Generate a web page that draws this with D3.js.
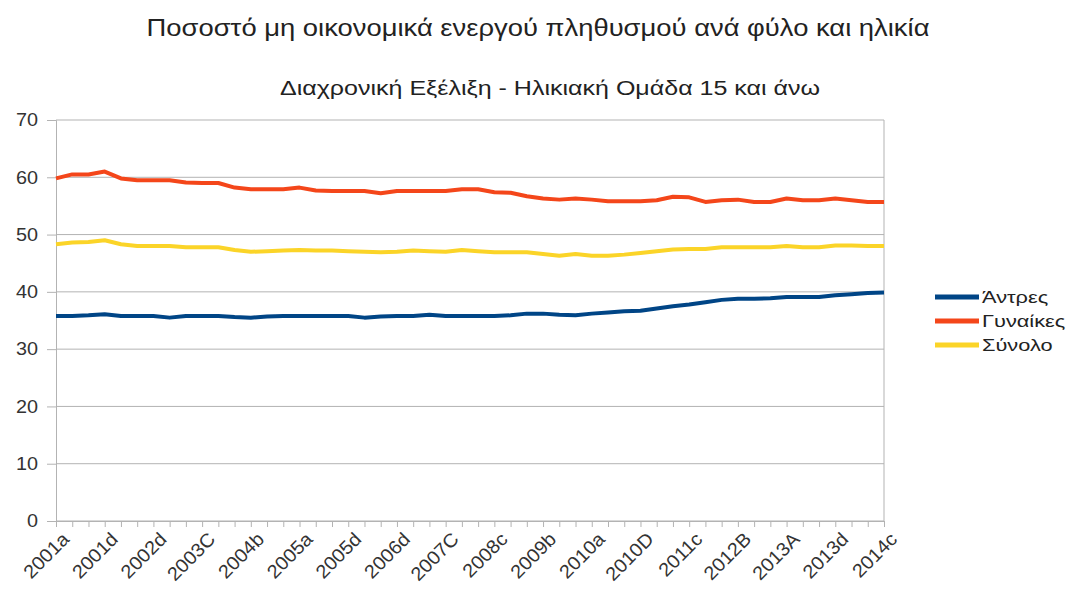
<!DOCTYPE html>
<html>
<head>
<meta charset="utf-8">
<script src="https://cdn.jsdelivr.net/npm/d3@7"></script>
<style>
  body { margin: 0; background: #fff; }
  svg { font-family: "Liberation Sans", Arial, sans-serif; }
</style>
</head>
<body>
<svg id="viz"></svg>
<script>
var width = 1076;
var height = 592;

// quarters as they appear in the source sheet (a few are missing)
var quarters = [
  "2001a","2001b","2001c","2001d",
  "2002a","2002b","2002d",
  "2003a","2003b","2003C","2003d",
  "2004a","2004b","2004c","2004d",
  "2005a","2005b","2005c","2005d",
  "2006a","2006b","2006d",
  "2007a","2007b","2007C","2007d",
  "2008a","2008c","2008d",
  "2009a","2009b","2009c","2009d",
  "2010a","2010b","2010c","2010D",
  "2011a","2011b","2011c","2011d",
  "2012a","2012B","2012c","2012d",
  "2013A","2013b","2013c","2013d",
  "2014a","2014b","2014c"
];

var men = [
  35.8,35.8,35.9,36.1, 35.8,35.8,35.8, 35.5,35.8,35.8,35.8, 35.6,35.5,35.7,35.8,
  35.8,35.8,35.8,35.8, 35.5,35.7,35.8, 35.8,36.0,35.8,35.8, 35.8,35.8,35.9,
  36.2,36.2,36.0,35.9, 36.2,36.4,36.6,36.7, 37.1,37.5,37.8,38.2,
  38.6,38.8,38.8,38.9, 39.1,39.1,39.1,39.4, 39.6,39.8,39.9
];
var women = [
  59.8,60.5,60.5,61.0, 59.8,59.5,59.5, 59.5,59.1,59.0,59.0, 58.2,57.9,57.9,57.9,
  58.2,57.7,57.6,57.6, 57.6,57.2,57.6, 57.6,57.6,57.6,57.9, 57.9,57.4,57.3,
  56.7,56.3,56.1,56.3, 56.1,55.8,55.8,55.8, 56.0,56.6,56.5,55.7,
  56.0,56.1,55.7,55.7, 56.3,56.0,56.0,56.3, 56.0,55.7,55.7
];
var total = [
  48.3,48.6,48.7,49.0, 48.3,48.0,48.0, 48.0,47.8,47.8,47.8, 47.3,47.0,47.1,47.2,
  47.3,47.2,47.2,47.1, 47.0,46.9,47.0, 47.2,47.1,47.0,47.3, 47.1,46.9,46.9,
  46.9,46.6,46.3,46.6, 46.3,46.3,46.5,46.8, 47.1,47.4,47.5,47.5,
  47.8,47.8,47.8,47.8, 48.0,47.8,47.8,48.1, 48.1,48.0,48.0
];

var seriesNames = ["Άντρες", "Γυναίκες", "Σύνολο"];
var seriesColors = ["#004586", "#f4461a", "#fbd428"];
var yTicks = [0, 10, 20, 30, 40, 50, 60, 70];

var svg = d3.select("#viz").attr("width", width).attr("height", height);

var plot = { left: 56, right: 884, top: 120, bottom: 521 };

// the source picture is a bit wider than tall, so text gets stretched sideways
function stretch(sel, factor) {
    sel.each(function() {
        var w = this.getComputedTextLength();
        d3.select(this)
            .attr("textLength", w * factor)
            .attr("lengthAdjust", "spacingAndGlyphs");
    });
}

var x = d3.scalePoint()
    .domain(quarters)
    .range([plot.left, plot.right]);

var y = d3.scaleLinear()
    .domain([0, 70])
    .range([plot.bottom, plot.top]);

// titles
svg.append("text")
    .attr("x", 538)
    .attr("y", 36)
    .attr("text-anchor", "middle")
    .style("font-size", "23px")
    .style("fill", "#222")
    .text("Ποσοστό μη οικονομικά ενεργού πληθυσμού ανά φύλο και ηλικία")
    .attr("textLength", 783)
    .attr("lengthAdjust", "spacingAndGlyphs");

svg.append("text")
    .attr("x", 550)
    .attr("y", 95)
    .attr("text-anchor", "middle")
    .style("font-size", "20px")
    .style("fill", "#222")
    .text("Διαχρονική Εξέλιξη - Ηλικιακή Ομάδα 15 και άνω")
    .attr("textLength", 540)
    .attr("lengthAdjust", "spacingAndGlyphs");

// horizontal grid
svg.append("g")
    .selectAll("line")
    .data(yTicks)
    .enter()
    .append("line")
    .attr("x1", plot.left)
    .attr("x2", plot.right)
    .attr("y1", function(d) { return y(d); })
    .attr("y2", function(d) { return y(d); })
    .style("stroke", "#b3b3b3")
    .style("stroke-width", 1);

// right border
svg.append("line")
    .attr("x1", plot.right).attr("x2", plot.right)
    .attr("y1", plot.top).attr("y2", plot.bottom)
    .style("stroke", "#b3b3b3");

// y axis
var yAxis = svg.append("g")
    .attr("transform", "translate(" + plot.left + ",0)")
    .call(d3.axisLeft(y).tickValues(yTicks).tickSize(9).tickPadding(9));
yAxis.select(".domain").style("stroke", "#b3b3b3");
yAxis.selectAll(".tick line").style("stroke", "#b3b3b3");
yAxis.selectAll("text")
    .style("font-size", "18px")
    .style("fill", "#333")
    .style("font-family", "Liberation Sans, Arial, sans-serif")
    .call(stretch, 1.1);

// x axis
var xAxis = svg.append("g")
    .attr("transform", "translate(0," + plot.bottom + ")")
    .call(d3.axisBottom(x).tickSize(6).tickFormat(""));
xAxis.select(".domain").style("stroke", "#b3b3b3");
xAxis.selectAll(".tick line").style("stroke", "#b3b3b3");

svg.append("g")
    .selectAll("text")
    .data(quarters.filter(function(d, i) { return i % 3 === 0; }))
    .enter()
    .append("text")
    .attr("transform", function(d) {
        return "translate(" + (x(d) + 5) + "," + (plot.bottom + 10) + ") rotate(-45)";
    })
    .attr("text-anchor", "end")
    .attr("dy", "0.7em")
    .style("font-size", "19px")
    .style("fill", "#333")
    .text(function(d) { return d; })
    .call(stretch, 1.05);

// lines
var line = d3.line()
    .x(function(d, i) { return x(quarters[i]); })
    .y(function(d) { return y(d); });

var allSeries = [men, women, total];

svg.append("g")
    .selectAll("path")
    .data(allSeries)
    .enter()
    .append("path")
    .attr("d", line)
    .style("fill", "none")
    .style("stroke", function(d, i) { return seriesColors[i]; })
    .style("stroke-width", 4)
    .style("stroke-linejoin", "round");

// legend
var legend = svg.append("g")
    .selectAll("g")
    .data(seriesNames)
    .enter()
    .append("g")
    .attr("transform", function(d, i) { return "translate(935," + (297 + i * 24) + ")"; });

legend.append("line")
    .attr("x1", 0).attr("x2", 44)
    .attr("y1", 0).attr("y2", 0)
    .style("stroke", function(d, i) { return seriesColors[i]; })
    .style("stroke-width", 5);

legend.append("text")
    .attr("x", 47)
    .attr("dy", "0.35em")
    .style("font-size", "17px")
    .style("fill", "#222")
    .text(function(d) { return d; })
    .call(stretch, 1.28);
</script>
</body>
</html>
